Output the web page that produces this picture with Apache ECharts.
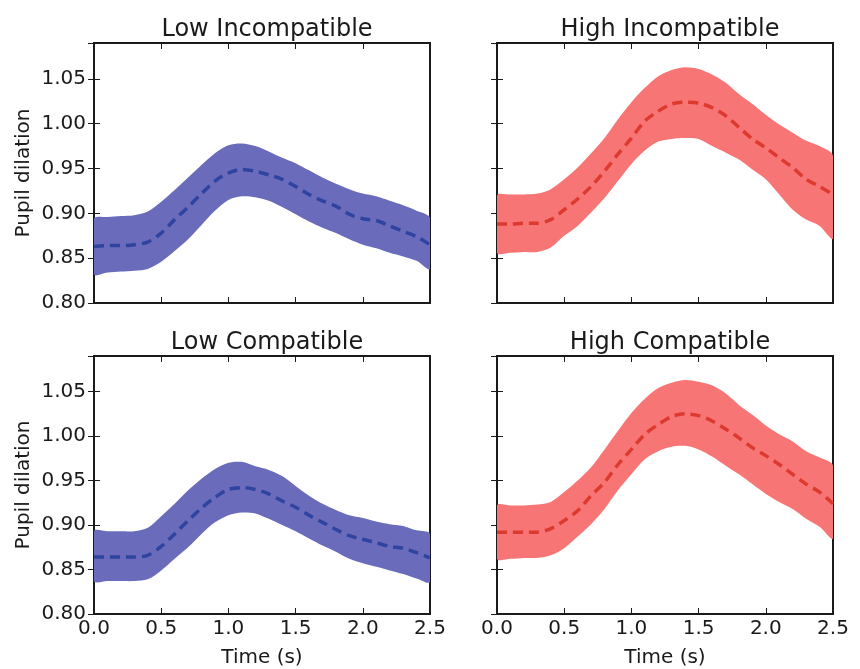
<!DOCTYPE html>
<html>
<head>
<meta charset="utf-8">
<script src="https://cdn.jsdelivr.net/npm/echarts@6/dist/echarts.min.js"></script>
<style>
  html, body { margin: 0; padding: 0; background: #fff; }
  #chart { width: 860px; height: 669px; }
</style>
</head>
<body>
<div id="chart"></div>
<script>
// time points (s)
const time = [0.0, 0.1, 0.2, 0.3, 0.4, 0.5, 0.6, 0.7, 0.8, 0.9, 1.0, 1.1, 1.2,
  1.3, 1.4, 1.5, 1.6, 1.7, 1.8, 1.9, 2.0, 2.1, 2.2, 2.3, 2.4, 2.5]

const titles = ['Low Incompatible', 'High Incompatible', 'Low Compatible', 'High Compatible']
const yTicks = [0.80, 0.85, 0.90, 0.95, 1.00, 1.05]
const xTicks = [0.0, 0.5, 1.0, 1.5, 2.0, 2.5]

// Low Incompatible
const lowIncMean = [0.863, 0.864, 0.864, 0.865, 0.868, 0.878, 0.893, 0.907, 0.922, 0.936, 0.945, 0.949, 0.947,
  0.943, 0.938, 0.930, 0.921, 0.914, 0.908, 0.899, 0.894, 0.892, 0.886, 0.880, 0.874, 0.865]
const lowIncUpper = [0.894, 0.896, 0.897, 0.898, 0.902, 0.913, 0.926, 0.940, 0.954, 0.967, 0.976, 0.978, 0.975,
  0.969, 0.962, 0.956, 0.948, 0.940, 0.933, 0.927, 0.922, 0.919, 0.914, 0.909, 0.903, 0.895]
const lowIncLower = [0.832, 0.834, 0.835, 0.836, 0.838, 0.846, 0.858, 0.871, 0.887, 0.903, 0.915, 0.919, 0.918,
  0.914, 0.907, 0.899, 0.891, 0.884, 0.878, 0.871, 0.865, 0.861, 0.856, 0.852, 0.847, 0.838]

// High Incompatible
const highIncMean = [0.888, 0.888, 0.889, 0.889, 0.893, 0.904, 0.916, 0.930, 0.947, 0.966, 0.984, 1.003, 1.014,
  1.022, 1.024, 1.023, 1.018, 1.009, 0.996, 0.983, 0.973, 0.962, 0.951, 0.938, 0.930, 0.921]
const highIncUpper = [0.920, 0.921, 0.921, 0.922, 0.927, 0.938, 0.951, 0.967, 0.984, 1.005, 1.024, 1.040, 1.053,
  1.060, 1.063, 1.061, 1.055, 1.046, 1.033, 1.022, 1.010, 0.999, 0.990, 0.981, 0.975, 0.964]
const highIncLower = [0.856, 0.856, 0.857, 0.857, 0.862, 0.875, 0.886, 0.901, 0.917, 0.936, 0.955, 0.970, 0.980,
  0.983, 0.984, 0.983, 0.975, 0.968, 0.960, 0.949, 0.938, 0.921, 0.904, 0.893, 0.886, 0.872]

// Low Compatible
const lowCompMean = [0.864, 0.864, 0.864, 0.864, 0.866, 0.876, 0.890, 0.905, 0.919, 0.931, 0.940, 0.942, 0.940,
  0.935, 0.927, 0.920, 0.911, 0.903, 0.895, 0.888, 0.884, 0.880, 0.876, 0.874, 0.869, 0.863]
const lowCompUpper = [0.893, 0.893, 0.893, 0.893, 0.897, 0.910, 0.924, 0.939, 0.952, 0.963, 0.970, 0.971, 0.966,
  0.962, 0.955, 0.944, 0.933, 0.924, 0.917, 0.911, 0.908, 0.904, 0.901, 0.899, 0.894, 0.890]
const lowCompLower = [0.837, 0.837, 0.837, 0.837, 0.839, 0.849, 0.862, 0.875, 0.890, 0.903, 0.911, 0.914, 0.913,
  0.907, 0.900, 0.893, 0.885, 0.877, 0.870, 0.862, 0.857, 0.853, 0.849, 0.845, 0.840, 0.836]

// High Compatible
const highCompMean = [0.892, 0.892, 0.892, 0.892, 0.896, 0.905, 0.916, 0.933, 0.948, 0.968, 0.985, 1.002, 1.013,
  1.022, 1.025, 1.023, 1.017, 1.008, 0.998, 0.987, 0.978, 0.968, 0.957, 0.946, 0.937, 0.924]
const highCompUpper = [0.922, 0.922, 0.922, 0.923, 0.926, 0.937, 0.950, 0.965, 0.985, 1.006, 1.026, 1.042, 1.054,
  1.060, 1.063, 1.061, 1.057, 1.048, 1.035, 1.024, 1.012, 1.002, 0.994, 0.983, 0.976, 0.967]
const highCompLower = [0.862, 0.862, 0.863, 0.863, 0.866, 0.874, 0.887, 0.901, 0.918, 0.939, 0.957, 0.974, 0.983,
  0.988, 0.989, 0.985, 0.977, 0.967, 0.957, 0.946, 0.935, 0.926, 0.918, 0.907, 0.898, 0.885]

const panels = [
  { mean: lowIncMean, upper: lowIncUpper, lower: lowIncLower, fill: '#6a6cbb', line: '#2e44a0' },
  { mean: highIncMean, upper: highIncUpper, lower: highIncLower, fill: '#f77575', line: '#dc3a2e' },
  { mean: lowCompMean, upper: lowCompUpper, lower: lowCompLower, fill: '#6a6cbb', line: '#2e44a0' },
  { mean: highCompMean, upper: highCompUpper, lower: highCompLower, fill: '#f77575', line: '#dc3a2e' }
]

const FONT = 'DejaVu Sans'
const INK = '#1a1a1a'

// grid boxes (px)
const boxes = [
  { left: 94, top: 43, width: 336, height: 260 },
  { left: 497, top: 43, width: 336, height: 260 },
  { left: 94, top: 356, width: 336, height: 261 },
  { left: 497, top: 356, width: 336, height: 261 }
]

const chart = echarts.init(document.getElementById('chart'), null, { renderer: 'canvas' })

const grid = []
const xAxis = []
const yAxis = []
const series = []
const title = []

const onTick = (v, ticks) => ticks.some(t => Math.abs(t - v) < 1e-6)

// 填充带：整条多边形在第一个数据项里画完
const bandItem = (p, api) => {
  const top = time.map((t, k) => api.coord([t, p.upper[k]]))
  const bottom = time.map((t, k) => api.coord([t, p.lower[k]]))
  return {
    type: 'polygon',
    silent: true,
    shape: { points: top.concat(bottom.slice().reverse()), smooth: 0.3 },
    style: { fill: p.fill }
  }
}

boxes.forEach((b, i) => {
  const isLeft = i % 2 === 0
  const isBottom = i >= 2
  grid.push({ ...b, show: true, borderColor: INK, borderWidth: 2, backgroundColor: 'transparent' })
  title.push({
    text: titles[i],
    left: b.left + b.width / 2,
    top: b.top - 30,
    textAlign: 'center',
    textStyle: { fontFamily: FONT, fontSize: 24, fontWeight: 'normal', color: INK }
  })

  const tickStyle = { show: true, inside: true, length: 6, lineStyle: { color: INK, width: 1 } }

  // bottom x axis
  xAxis.push({
    type: 'value', gridIndex: i, min: 0, max: 2.5, interval: 0.5,
    axisLine: { show: false },
    axisTick: tickStyle,
    splitLine: { show: false },
    axisLabel: {
      show: isBottom, margin: 5, fontFamily: FONT, fontSize: 20, color: INK,
      formatter: v => onTick(v, xTicks) ? v.toFixed(1) : ''
    },
    name: isBottom ? 'Time (s)' : '',
    nameLocation: 'middle', nameGap: 34,
    nameTextStyle: { fontFamily: FONT, fontSize: 20, color: INK }
  })
  // top x axis (mirror ticks)
  xAxis.push({
    type: 'value', gridIndex: i, position: 'top', min: 0, max: 2.5, interval: 0.5,
    axisLine: { show: false }, axisTick: tickStyle, axisLabel: { show: false }, splitLine: { show: false }
  })
  // left y axis
  yAxis.push({
    type: 'value', gridIndex: i, min: 0.80, max: 1.09, interval: 0.05,
    axisLine: { show: false },
    axisTick: tickStyle,
    splitLine: { show: false },
    axisLabel: {
      show: isLeft, margin: 8, fontFamily: FONT, fontSize: 20, color: INK,
      formatter: v => onTick(v, yTicks) ? v.toFixed(2) : ''
    },
    name: isLeft ? 'Pupil dilation' : '',
    nameLocation: 'middle', nameRotate: 90, nameGap: 60,
    nameTextStyle: { fontFamily: FONT, fontSize: 20, color: INK }
  })
  // right y axis (mirror ticks)
  yAxis.push({
    type: 'value', gridIndex: i, position: 'right', min: 0.80, max: 1.09, interval: 0.05,
    axisLine: { show: false }, axisTick: tickStyle, axisLabel: { show: false }, splitLine: { show: false }
  })

  const p = panels[i]
  const xi = i * 2
  const yi = i * 2
  // band between lower and upper (drawn once, from all points)
  series.push({
    type: 'custom', xAxisIndex: xi, yAxisIndex: yi,
    data: time.map((t, k) => [t, p.lower[k], p.upper[k]]),
    encode: { x: 0, y: [1, 2] },
    renderItem: (params, api) => params.dataIndex === 0 ? bandItem(p, api) : null,
    clip: true, silent: true, z: 1
  })
  // mean
  series.push({
    type: 'line', xAxisIndex: xi, yAxisIndex: yi,
    data: time.map((t, k) => [t, p.mean[k]]),
    symbol: 'none', smooth: 0.3,
    lineStyle: { color: p.line, width: 3.5, type: [10, 6] }, z: 3
  })
})

chart.setOption({
  animation: false,
  backgroundColor: '#fff',
  title,
  grid,
  xAxis,
  yAxis,
  series
})
</script>
</body>
</html>
